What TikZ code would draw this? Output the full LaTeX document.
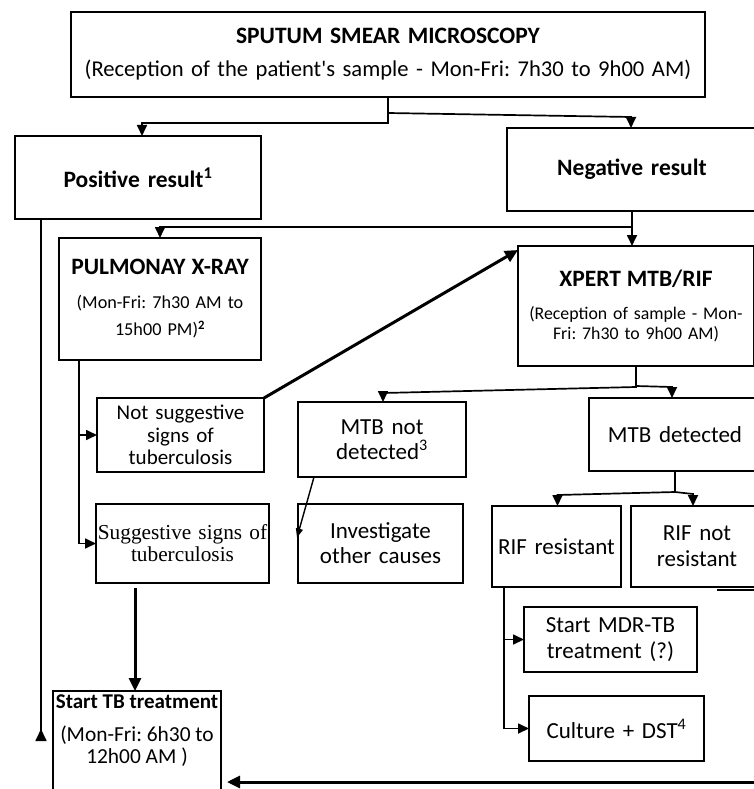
\documentclass[tikz,border=0pt]{standalone}
\usepackage{fontspec}
\setmainfont{Carlito}
\newfontfamily\antiqua{Liberation Serif}
\usetikzlibrary{arrows.meta,calc}
\frenchspacing
\begin{document}
\begin{tikzpicture}[x=1pt,y=-1pt,
  box/.style={draw, line width=1.8pt, inner sep=0pt, outer sep=0pt, anchor=north west, align=center},
  conn/.style={line width=1.7pt, -{Triangle[length=11pt,width=10pt]}},
  thickconn/.style={line width=3pt, -{Triangle[length=13pt,width=12pt]}},
  plain/.style={line width=1.7pt}
]
\useasboundingbox (0,0) rectangle (753,789);

% boxes
\node[box, minimum width=634pt, minimum height=85pt, text width=630pt,
      font=\fontsize{22.6}{33}\selectfont\frenchspacing] (smear) at (71,12)
  {{\fontsize{23.5}{28}\selectfont\bfseries SPUTUM SMEAR MICROSCOPY}\\(Reception of the patient\textquotesingle s sample - Mon-Fri: 7h30 to 9h00 AM)};
\node[box, minimum width=246pt, minimum height=83pt, text width=240pt,
      font=\fontsize{23.5}{28}\selectfont\bfseries] (pos) at (15,136)
  {Positive result\textsuperscript{1}};
\node[box, minimum width=250pt, minimum height=83pt, text width=244pt,
      font=\fontsize{23.5}{28}\selectfont\bfseries] (neg) at (507,128)
  {Negative result};
\node[box, minimum width=202pt, minimum height=122pt, text width=198pt,
      font=\fontsize{18.2}{27}\selectfont\frenchspacing] (pulm) at (59,238)
  {{\fontsize{23.5}{28}\selectfont\bfseries PULMONAY X-RAY}\\[7pt](Mon-Fri: 7h30 AM to\\15h00 PM)\textsuperscript{\textbf{2}}};
\node[box, minimum width=236pt, minimum height=120pt, text width=232pt,
      font=\fontsize{17.8}{20}\selectfont\frenchspacing] (xpert) at (518,246)
  {{\fontsize{23.5}{28}\selectfont\bfseries XPERT MTB/RIF}\\[13pt](Reception of sample - Mon-\\Fri: 7h30 to 9h00 AM)};
\node[box, minimum width=167pt, minimum height=74pt, text width=163pt,
      font=\fontsize{21}{22.5}\selectfont] (notsug) at (97,398)
  {Not suggestive\\signs of\\tuberculosis};
\node[box, minimum width=168pt, minimum height=75pt, text width=164pt,
      font=\fontsize{23}{25}\selectfont] (mtbnot) at (298,402)
  {MTB not\\detected\textsuperscript{3}};
\node[box, minimum width=172pt, minimum height=73pt, text width=168pt,
      font=\fontsize{23}{25}\selectfont] (mtbdet) at (589,398)
  {MTB detected};
\node[box, minimum width=173pt, minimum height=79pt, text width=171pt,
      font=\antiqua\fontsize{21.3}{22}\selectfont] (sug) at (96,504)
  {Suggestive signs of\\tuberculosis};
\node[box, minimum width=165pt, minimum height=79pt, text width=161pt,
      font=\fontsize{23}{25}\selectfont] (invest) at (298,504)
  {Investigate\\other causes};
\node[box, minimum width=129pt, minimum height=81pt, text width=127pt,
      font=\fontsize{23}{26}\selectfont] (rifres) at (492,506)
  {RIF resistant};
\node[box, minimum width=132pt, minimum height=81pt, text width=128pt,
      font=\fontsize{23}{26}\selectfont] (rifnot) at (631,506)
  {RIF not\\resistant};
\node[box, minimum width=173pt, minimum height=65pt, text width=169pt,
      font=\fontsize{23}{26}\selectfont] (mdr) at (524,607)
  {Start MDR-TB\\treatment (?)};
\node[box, minimum width=175pt, minimum height=65pt, text width=171pt,
      font=\fontsize{23}{26}\selectfont] (cult) at (529,696)
  {Culture + DST\textsuperscript{4}};
\node[box, minimum width=168pt, minimum height=115pt] (tb) at (53,691) {};
\node[anchor=north, inner sep=0pt, align=center, font=\fontsize{21.4}{22}\selectfont\frenchspacing] (tbtext)
  at ($(tb.north)+(0,4)$)
  {{\fontsize{21}{22}\selectfont\bfseries Start TB treatment}\\[11pt](Mon-Fri: 6h30 to\\12h00 AM )};

% connectors
\draw[conn] (smear.south) -- ($(smear.south)+(0,26)$) -| ($(pos.north)+(4,0)$);
\draw[conn] ($(smear.south)+(0,16)$) -- ($(neg.north)+(-1,-11)$) -- ($(neg.north)+(-1,0)$);
\draw[conn] (neg.south) -- (neg.south |- xpert.north);
\draw[conn] ($(neg.south)+(0,16)$) -| (pulm.north);
\draw[line width=1.7pt, -{Triangle[reversed,length=12pt,width=11pt]}]
  ($(pos.south west)+(26,0)$) -- ($(tb.north west)+(-12,50)$);
\draw[conn] ($(pulm.south west)+(20,0)$) |- (notsug.west);
\draw[conn] ($(pulm.south west)+(20,0)$) |- (sug.west);
\draw[thickconn] (notsug.north east) -- ($(xpert.north west)+(0,4)$);
\draw[thickconn] ($(sug.south -| tb.north)+(-2,5)$) -- ($(tb.north)+(-2,0)$);
\draw[conn] (xpert.south) -- ($(xpert.south)+(0,21)$) -- ($(mtbnot.north)+(1,-9)$) -- ($(mtbnot.north)+(1,0)$);
\draw[conn] ($(xpert.south)+(0,20)$) -- ($(mtbdet.north)+(-3,-11)$) -- ($(mtbdet.north)+(-3,0)$);
\draw[line width=1.4pt, -{Triangle[length=9pt,width=7pt]}]
  ($(mtbnot.south west)+(16,0)$) -- ($(invest.west)+(-1,-6)$);
\draw[conn] (mtbdet.south) -- ($(mtbdet.south)+(0,21)$) -- ($(rifres.north)+(1,-11)$) -- ($(rifres.north)+(1,0)$);
\draw[conn] ($(mtbdet.south)+(0,21)$) -- ($(rifnot.north)+(-4,-12)$) -- ($(rifnot.north)+(-4,0)$);
\draw[conn] ($(rifres.south west)+(12,0)$) |- (mdr.west);
\draw[conn] ($(rifres.south west)+(12,0)$) |- (cult.west);
\coordinate (offR) at (760,782);
\draw[thickconn, shorten >=6pt] (offR) -- (offR -| tb.east);
\coordinate (offR2) at (760,590);
\draw[plain] (offR2) -- ($(rifnot.south west)+(86,3)$);
\end{tikzpicture}
\end{document}
